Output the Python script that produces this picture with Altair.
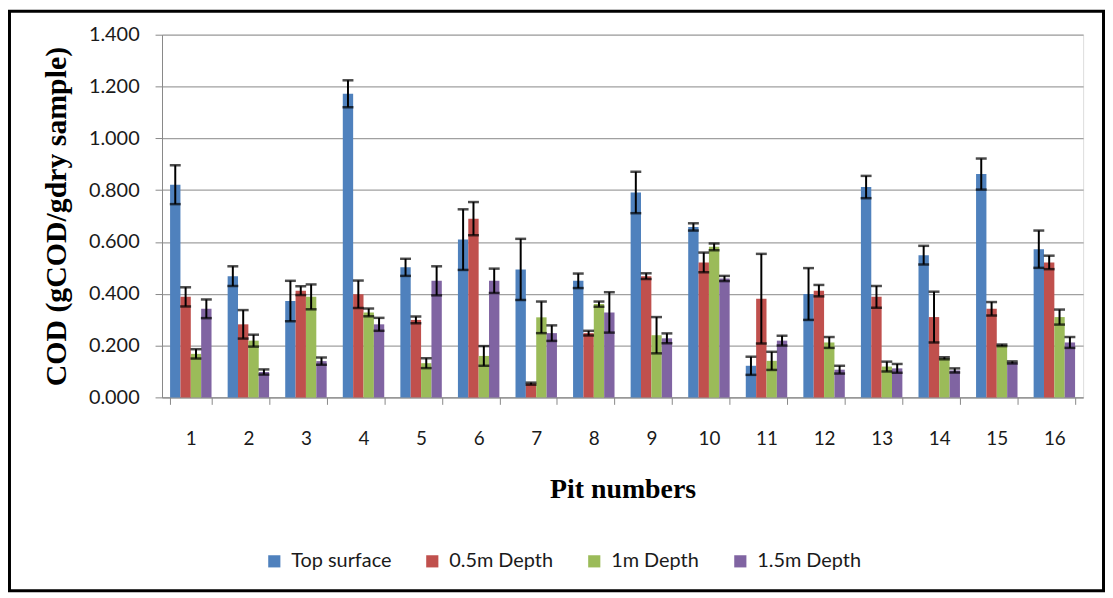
import altair as alt
import pandas as pd

pits = [str(i) for i in range(1, 17)]
series = ["Top surface", "0.5m Depth", "1m Depth", "1.5m Depth"]
colors = ["#4F81BD", "#C0504D", "#9BBB59", "#8064A2"]

top_surface = [0.821, 0.468, 0.372, 1.172, 0.502, 0.609, 0.494, 0.450, 0.791, 0.658, 0.122, 0.399, 0.812, 0.549, 0.862, 0.572]
top_err     = [0.075, 0.038, 0.078, 0.052, 0.033, 0.117, 0.118, 0.028, 0.080, 0.014, 0.035, 0.100, 0.043, 0.036, 0.060, 0.072]
d05         = [0.388, 0.282, 0.412, 0.398, 0.299, 0.690, 0.053, 0.248, 0.468, 0.521, 0.381, 0.412, 0.388, 0.310, 0.342, 0.521]
d05_err     = [0.037, 0.055, 0.017, 0.053, 0.013, 0.064, 0.004, 0.009, 0.011, 0.038, 0.173, 0.022, 0.042, 0.098, 0.026, 0.026]
d1          = [0.168, 0.219, 0.388, 0.328, 0.132, 0.160, 0.309, 0.360, 0.240, 0.581, 0.141, 0.212, 0.119, 0.151, 0.201, 0.310]
d1_err      = [0.018, 0.023, 0.048, 0.015, 0.019, 0.038, 0.061, 0.010, 0.070, 0.013, 0.035, 0.021, 0.019, 0.004, 0.003, 0.029]
d15         = [0.342, 0.098, 0.140, 0.282, 0.450, 0.450, 0.248, 0.328, 0.228, 0.459, 0.219, 0.107, 0.112, 0.104, 0.135, 0.212]
d15_err     = [0.036, 0.010, 0.014, 0.025, 0.056, 0.047, 0.030, 0.078, 0.019, 0.010, 0.019, 0.015, 0.017, 0.008, 0.004, 0.021]

y_ticks = [0.0, 0.2, 0.4, 0.6, 0.8, 1.0, 1.2, 1.4]

rows = []
for name, vals, errs in zip(series, [top_surface, d05, d1, d15], [top_err, d05_err, d1_err, d15_err]):
    for p, v, e in zip(pits, vals, errs):
        rows.append({"pit": p, "series": name, "value": v, "lo": v - e, "hi": v + e})
df = pd.DataFrame(rows)

W, H = 927, 365
PL, PT = 155, 25
TOTAL_W, TOTAL_H = 1104, 586
PR = TOTAL_W - PL - W
PB = TOTAL_H - PT - H

x_enc = alt.X("pit:N", sort=pits,
              scale=alt.Scale(paddingInner=0.28, paddingOuter=0.14),
              axis=alt.Axis(title="Pit numbers", labelAngle=0, tickBand="extent",
                            labelFont="Lato", labelFontSize=19, labelColor="#1a1a1a",
                            labelPadding=25, tickSize=7, tickColor="#888888", domainColor="#888888",
                            titleFont="Liberation Serif", titleFontSize=28, titleFontWeight="bold",
                            titleColor="#000000", titlePadding=28, grid=False))
xoff = alt.XOffset("series:N", sort=series, scale=alt.Scale(paddingInner=0, paddingOuter=0))

base = alt.Chart(df)

bars = base.mark_bar().encode(
    x=x_enc,
    xOffset=xoff,
    y=alt.Y("value:Q", scale=alt.Scale(domain=[0, 1.4], nice=False),
            axis=alt.Axis(title="COD (gCOD/gdry sample)", values=y_ticks, format=".3f",
                          labelFont="Lato", labelFontSize=20, labelColor="#1a1a1a",
                          labelPadding=16, tickSize=7, tickColor="#888888", domainColor="#888888",
                          gridColor="#a0a0a0", gridWidth=1.2,
                          titleFont="Liberation Serif", titleFontSize=30, titleFontWeight="bold",
                          titleColor="#000000", titlePadding=17)),
    color=alt.Color("series:N", sort=series, scale=alt.Scale(domain=series, range=colors),
                    legend=alt.Legend(title=None, orient="none", direction="horizontal",
                                      legendX=103, legendY=520, symbolType="square",
                                      symbolSize=150, symbolStrokeWidth=0,
                                      labelFont="Lato", labelFontSize=20, labelColor="#1a1a1a",
                                      labelOffset=7, columnPadding=31)),
)

stems = base.mark_rule(color="black", strokeWidth=2).encode(
    x=alt.X("pit:N", sort=pits), xOffset=xoff, y="lo:Q", y2="hi:Q")
caps_hi = base.mark_tick(color="black", thickness=2.5, size=11).encode(
    x=alt.X("pit:N", sort=pits), xOffset=xoff, y="hi:Q")
caps_lo = base.mark_tick(color="black", thickness=2.5, size=11).encode(
    x=alt.X("pit:N", sort=pits), xOffset=xoff, y="lo:Q")

frame = alt.Chart(alt.Data(values=[{"k": 1}])).mark_rect(
    fill=None, fillOpacity=0, stroke="black", strokeWidth=3).encode(
    x=alt.value(-PL + 1.5), x2=alt.value(W + PR - 1.5),
    y=alt.value(-PT + 1.5), y2=alt.value(H + PB - 1.5))

chart = alt.layer(bars, stems, caps_hi, caps_lo, frame).properties(
    width=W, height=H,
    autosize=alt.AutoSizeParams(type="none"),
    padding={"left": PL, "top": PT, "right": PR, "bottom": PB},
).configure_view(stroke="#808080", strokeWidth=1.5).configure(background="white")

chart.save("out.html", embed_options={"renderer": "svg", "actions": False})
